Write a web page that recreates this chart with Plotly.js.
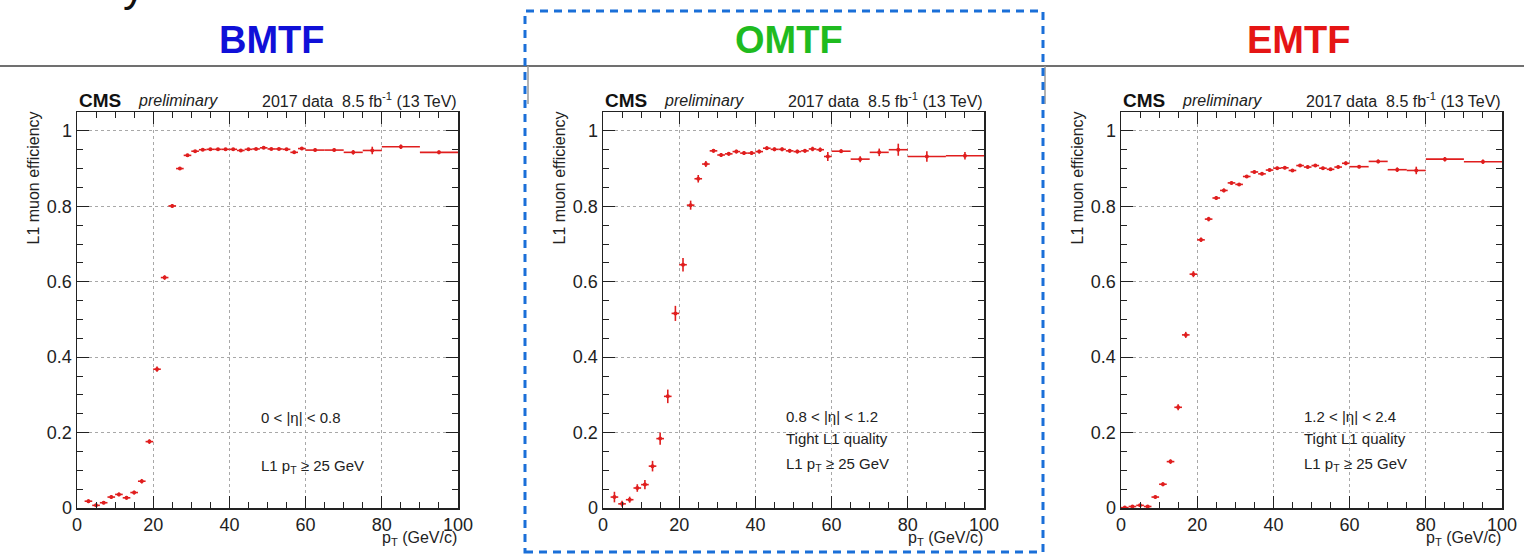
<!DOCTYPE html>
<html>
<head>
<meta charset="utf-8">
<script src="https://cdn.plot.ly/plotly-3.0.1.min.js"></script>
<style>html,body{margin:0;padding:0;background:#fff;}#chart{width:1524px;height:557px;}</style>
</head>
<body>
<div id="chart"></div>
<script>
// ---------------- data ----------------
const panelNames = ["BMTF", "OMTF", "EMTF"];
const etaLabels = ["0 < |η| < 0.8", "0.8 < |η| < 1.2", "1.2 < |η| < 2.4"];

// bin centres (GeV/c) and bin half-widths
const ptBMTF = [3,5,7,9,11,13,15,17,19,21,23,25,27,29,31,33,35,37,39,41,43,45,47,49,51,53,55,57,59,62.5,67.5,72.5,77.5,85,95];
const halfBMTF = [1,1,1,1,1,1,1,1,1,1,1,1,1,1,1,1,1,1,1,1,1,1,1,1,1,1,1,1,1,2.5,2.5,2.5,2.5,5,5];
const ptOMTF = [3,5,7,9,11,13,15,17,19,21,23,25,27,29,31,33,35,37,39,41,43,45,47,49,51,53,55,57,59,62.5,67.5,72.5,77.5,85,95];
const halfOMTF = [1,1,1,1,1,1,1,1,1,1,1,1,1,1,1,1,1,1,1,1,1,1,1,1,1,1,1,1,1,2.5,2.5,2.5,2.5,5,5];
const ptEMTF = [1,3,5,7,9,11,13,15,17,19,21,23,25,27,29,31,33,35,37,39,41,43,45,47,49,51,53,55,57,59,62.5,67.5,72.5,77.5,85,95];
const halfEMTF = [1,1,1,1,1,1,1,1,1,1,1,1,1,1,1,1,1,1,1,1,1,1,1,1,1,1,1,1,1,1,2.5,2.5,2.5,2.5,5,5];

// efficiencies
const effBMTF = [0.018,0.007,0.014,0.029,0.036,0.027,0.041,0.071,0.176,0.368,0.611,0.801,0.900,0.935,0.946,0.950,0.951,0.951,0.951,0.951,0.948,0.951,0.952,0.955,0.952,0.952,0.951,0.943,0.953,0.949,0.949,0.943,0.948,0.958,0.943];
const errBMTF = [0.005,0.004,0.004,0.005,0.005,0.005,0.005,0.006,0.006,0.007,0.006,0.005,0.004,0.004,0.003,0.003,0.003,0.003,0.003,0.003,0.003,0.003,0.003,0.003,0.003,0.003,0.003,0.004,0.004,0.004,0.004,0.006,0.010,0.006,0.005];

const effOMTF = [0.029,0.011,0.022,0.053,0.062,0.111,0.184,0.296,0.516,0.645,0.803,0.873,0.912,0.947,0.936,0.939,0.945,0.941,0.941,0.945,0.954,0.951,0.951,0.947,0.945,0.947,0.952,0.950,0.932,0.946,0.925,0.943,0.950,0.932,0.934];
const errOMTF = [0.014,0.008,0.008,0.010,0.012,0.014,0.016,0.018,0.020,0.018,0.012,0.010,0.008,0.005,0.005,0.005,0.005,0.005,0.005,0.005,0.005,0.005,0.005,0.005,0.005,0.005,0.006,0.006,0.012,0.005,0.008,0.010,0.016,0.014,0.010];

const effEMTF = [0.001,0.004,0.007,0.004,0.029,0.063,0.123,0.267,0.459,0.620,0.711,0.766,0.822,0.842,0.862,0.858,0.879,0.891,0.886,0.896,0.901,0.902,0.895,0.908,0.904,0.908,0.901,0.898,0.904,0.914,0.905,0.919,0.897,0.895,0.925,0.918];
const errEMTF = [0.002,0.003,0.003,0.003,0.004,0.005,0.006,0.008,0.008,0.008,0.006,0.006,0.005,0.005,0.004,0.004,0.004,0.004,0.004,0.004,0.004,0.004,0.004,0.004,0.004,0.004,0.004,0.004,0.004,0.005,0.004,0.005,0.006,0.010,0.006,0.006];

const xTickVals = [0,20,40,60,80,100];
const yTickVals = [0,0.2,0.4,0.6,0.8,1];
const yTickText = ["0","0.2","0.4","0.6","0.8","1"];

// ---------------- layout helpers ----------------
const W = 1524, H = 557;
const px = v => v / W;
const py = v => 1 - v / H;
const FONT = "Liberation Sans, Arial, Helvetica, sans-serif";
const RED = "#e01e1e";

const plotX = [[77,458],[603,984],[1121,1502]];
const plotY = [112,508];
const headerX = [272, 789, 1298];
const headerColors = ["#1010d8", "#1fbb1f", "#e51515"];

const series = [
  {x: ptBMTF, h: halfBMTF, y: effBMTF, e: errBMTF},
  {x: ptOMTF, h: halfOMTF, y: effOMTF, e: errOMTF},
  {x: ptEMTF, h: halfEMTF, y: effEMTF, e: errEMTF}
];

const data = [];
const layout = {
  width: W, height: H,
  margin: {l:0, r:0, t:0, b:0, pad:0},
  paper_bgcolor: "#ffffff",
  plot_bgcolor: "#ffffff",
  showlegend: false,
  font: {family: FONT, color: "#222"},
  annotations: [],
  shapes: []
};

series.forEach((s, i) => {
  const sx = i === 0 ? "" : String(i + 1);
  data.push({
    type: "scatter", mode: "markers",
    x: s.x, y: s.y,
    xaxis: "x" + sx, yaxis: "y" + sx,
    marker: {color: RED, size: 4},
    error_x: {type: "data", array: s.h, symmetric: true, width: 0, thickness: 1.6, color: RED},
    error_y: {type: "data", array: s.e, symmetric: true, width: 0, thickness: 1.6, color: RED},
    cliponaxis: true,
    hoverinfo: "x+y"
  });

  const xa = {
    domain: [px(plotX[i][0]), px(plotX[i][1])],
    range: [0, 100], anchor: "y" + sx,
    tickvals: xTickVals, ticks: "inside", ticklen: 12, tickwidth: 1.2, tickcolor: "#222",
    minor: {dtick: 5, tick0: 0, ticks: "inside", ticklen: 6, tickwidth: 1, tickcolor: "#222", showgrid: false},
    showline: true, linecolor: "#222", linewidth: 1.5, mirror: "allticks",
    showgrid: true, gridcolor: "#a8a8a8", griddash: "dot", gridwidth: 1,
    zeroline: false, fixedrange: true,
    tickfont: {family: FONT, size: 18, color: "#222"}
  };
  const ya = {
    domain: [py(plotY[1]), py(plotY[0])],
    range: [0, 1.05], anchor: "x" + sx,
    tickvals: yTickVals, ticktext: yTickText, ticks: "inside", ticklen: 12, tickwidth: 1.2, tickcolor: "#222",
    minor: {dtick: 0.05, tick0: 0, ticks: "inside", ticklen: 6, tickwidth: 1, tickcolor: "#222", showgrid: false},
    showline: true, linecolor: "#222", linewidth: 1.5, mirror: "allticks",
    showgrid: true, gridcolor: "#a8a8a8", griddash: "dot", gridwidth: 1,
    zeroline: false, fixedrange: true,
    tickfont: {family: FONT, size: 18, color: "#222"}
  };
  layout["xaxis" + sx] = xa;
  layout["yaxis" + sx] = ya;

  const L = plotX[i][0], R = plotX[i][1];
  // header
  layout.annotations.push({
    text: "<b>" + panelNames[i] + "</b>", xref: "paper", yref: "paper",
    x: px(headerX[i]), y: py(40), xanchor: "center", yanchor: "middle", showarrow: false,
    font: {family: FONT, size: 38, color: headerColors[i]}
  });
  // CMS preliminary
  layout.annotations.push({
    text: "<b>CMS</b>", xref: "paper", yref: "paper",
    x: px(L), y: py(100), xanchor: "left", yanchor: "middle", showarrow: false,
    font: {family: FONT, size: 19, color: "#111"}
  });
  layout.annotations.push({
    text: "<i>preliminary</i>", xref: "paper", yref: "paper",
    x: px(L + 59), y: py(101), xanchor: "left", yanchor: "middle", showarrow: false,
    font: {family: FONT, size: 16, color: "#222"}
  });
  layout.annotations.push({
    text: "2017 data  8.5 fb<sup>-1</sup> (13 TeV)", xref: "paper", yref: "paper",
    x: px(R + 1), y: py(100), xanchor: "right", yanchor: "middle", showarrow: false,
    font: {family: FONT, size: 16, color: "#222"}
  });
  // y title
  layout.annotations.push({
    text: "L1 muon efficiency", xref: "paper", yref: "paper",
    x: px(L - 44), y: py(110), xanchor: "center", yanchor: "top", textangle: -90, showarrow: false,
    font: {family: FONT, size: 16, color: "#222"}
  });
  // x title
  layout.annotations.push({
    text: "p<sub>T</sub> (GeV/c)", xref: "paper", yref: "paper",
    x: px(R + 1), y: py(538), xanchor: "right", yanchor: "middle", showarrow: false,
    font: {family: FONT, size: 16, color: "#222"}
  });
  // selection text
  const textX = [259, 784, 1302][i];
  const lines = i === 0
    ? [[etaLabels[0], 417], ["L1 p<sub>T</sub> ≥ 25 GeV", 466]]
    : [[etaLabels[i], 416], ["Tight L1 quality", 439], ["L1 p<sub>T</sub> ≥ 25 GeV", 464]];
  lines.forEach(([t, yy]) => {
    layout.annotations.push({
      text: t, xref: "paper", yref: "paper",
      x: px(textX), y: py(yy), xanchor: "left", yanchor: "middle", showarrow: false,
      font: {family: FONT, size: 15, color: "#222"}
    });
  });
});

// partial slide title descender at top-left
layout.annotations.push({
  text: "y", xref: "paper", yref: "paper",
  x: px(134), y: py(12), xanchor: "center", yanchor: "bottom", showarrow: false,
  font: {family: FONT, size: 44, color: "#111"}
});

// horizontal separator under headers
layout.shapes.push({
  type: "line", xref: "paper", yref: "paper",
  x0: 0, x1: 1, y0: py(66), y1: py(66),
  line: {color: "#707070", width: 2}
});
// image border remnants
[528, 1045].forEach(xx => layout.shapes.push({
  type: "line", xref: "paper", yref: "paper",
  x0: px(xx), x1: px(xx), y0: py(66), y1: py(104),
  line: {color: "#9a9a9a", width: 1.5}
}));
// dashed highlight box around OMTF
layout.shapes.push({
  type: "rect", xref: "paper", yref: "paper",
  x0: px(525), x1: px(1043), y0: py(552), y1: py(11),
  line: {color: "#1a6fd8", width: 3, dash: "8px,6px"},
  fillcolor: "rgba(0,0,0,0)"
});

Plotly.newPlot("chart", data, layout, {displayModeBar: false, staticPlot: true});
</script>
</body>
</html>
